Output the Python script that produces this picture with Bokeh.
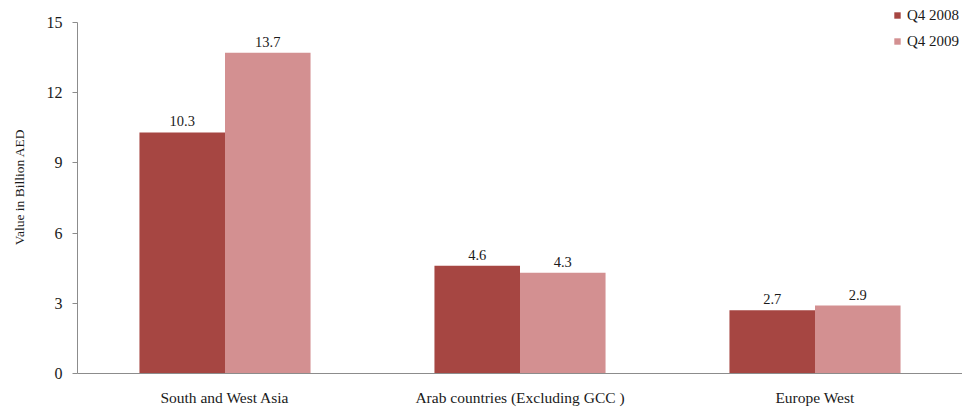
from bokeh.plotting import figure
from bokeh.models import ColumnDataSource, LabelSet, Legend, LegendItem, FixedTicker
from bokeh.transform import dodge
from bokeh.embed import file_html
from bokeh.resources import INLINE

categories = ["South and West Asia", "Arab countries (Excluding GCC )", "Europe West"]
q4_2008 = [10.3, 4.6, 2.7]
q4_2009 = [13.7, 4.3, 2.9]
series_names = ["Q4 2008", "Q4 2009"]
y_ticks = [0, 3, 6, 9, 12, 15]
y_max = 15

c2008 = "#A64642"
c2009 = "#D39091"
FONT = "Liberation Serif"

src = ColumnDataSource(dict(
    cat=categories, v08=q4_2008, v09=q4_2009,
    l08=[f"{v:.1f}" for v in q4_2008], l09=[f"{v:.1f}" for v in q4_2009],
))

H, TOP_GAP, BOTTOM = 408, 22, 33
frame_h = H - BOTTOM
plot_h = frame_h - TOP_GAP
y_end = y_max * frame_h / plot_h  # extra headroom so that the legend sits inside the frame

p = figure(x_range=categories, y_range=(0, y_end), width=962, height=H,
           output_backend="svg", toolbar_location=None,
           min_border_left=77, min_border_right=0, min_border_top=0, min_border_bottom=BOTTOM)
p.x_range.range_padding = 0
p.outline_line_color = None
p.xgrid.grid_line_color = None
p.ygrid.grid_line_color = None
p.background_fill_color = "white"
p.border_fill_color = "white"

bw = 0.29
r1 = p.vbar(x=dodge("cat", -bw / 2, range=p.x_range), top="v08", width=bw, source=src,
            fill_color=c2008, line_color=None)
r2 = p.vbar(x=dodge("cat", bw / 2, range=p.x_range), top="v09", width=bw, source=src,
            fill_color=c2009, line_color=None)

for col, ycol, off in (("l08", "v08", -bw / 2), ("l09", "v09", bw / 2)):
    p.add_layout(LabelSet(x=dodge("cat", off, range=p.x_range), y=ycol, text=col, source=src,
                          text_align="center", text_baseline="bottom", y_offset=6,
                          text_font=FONT, text_font_size="14.5px", text_color="#1a1a1a"))

# axes
p.yaxis.ticker = FixedTicker(ticks=y_ticks)
p.yaxis.bounds = (0, y_max)
p.yaxis.axis_label = "Value in Billion AED"
p.yaxis.axis_label_text_font = FONT
p.yaxis.axis_label_text_font_style = "normal"
p.yaxis.axis_label_text_font_size = "13.5px"
p.yaxis.axis_label_text_color = "#1a1a1a"
p.yaxis.axis_label_standoff = 17
for ax in (p.xaxis[0], p.yaxis[0]):
    ax.axis_line_color = "#8c8c8c"
    ax.major_tick_line_color = "#8c8c8c"
    ax.minor_tick_line_color = None
    ax.major_label_text_font = FONT
    ax.major_label_text_color = "#1a1a1a"
p.yaxis.major_label_text_font_size = "16px"
p.xaxis.major_label_text_font_size = "15.5px"
p.yaxis.major_tick_out = 5
p.yaxis.major_tick_in = 0
p.yaxis.major_label_standoff = 10
p.xaxis.major_tick_line_color = None
p.xaxis.major_label_standoff = 9

legend = Legend(items=[LegendItem(label=series_names[0], renderers=[r1]),
                       LegendItem(label=series_names[1], renderers=[r2])],
                location=(816, 323), orientation="vertical",
                label_text_font=FONT, label_text_font_size="15px", label_text_color="#1a1a1a",
                glyph_width=8, glyph_height=8, label_height=18, spacing=8, label_standoff=6,
                border_line_color=None, background_fill_alpha=0, padding=0, margin=0)
p.add_layout(legend)

open("out.html", "w").write(file_html(p, INLINE))
